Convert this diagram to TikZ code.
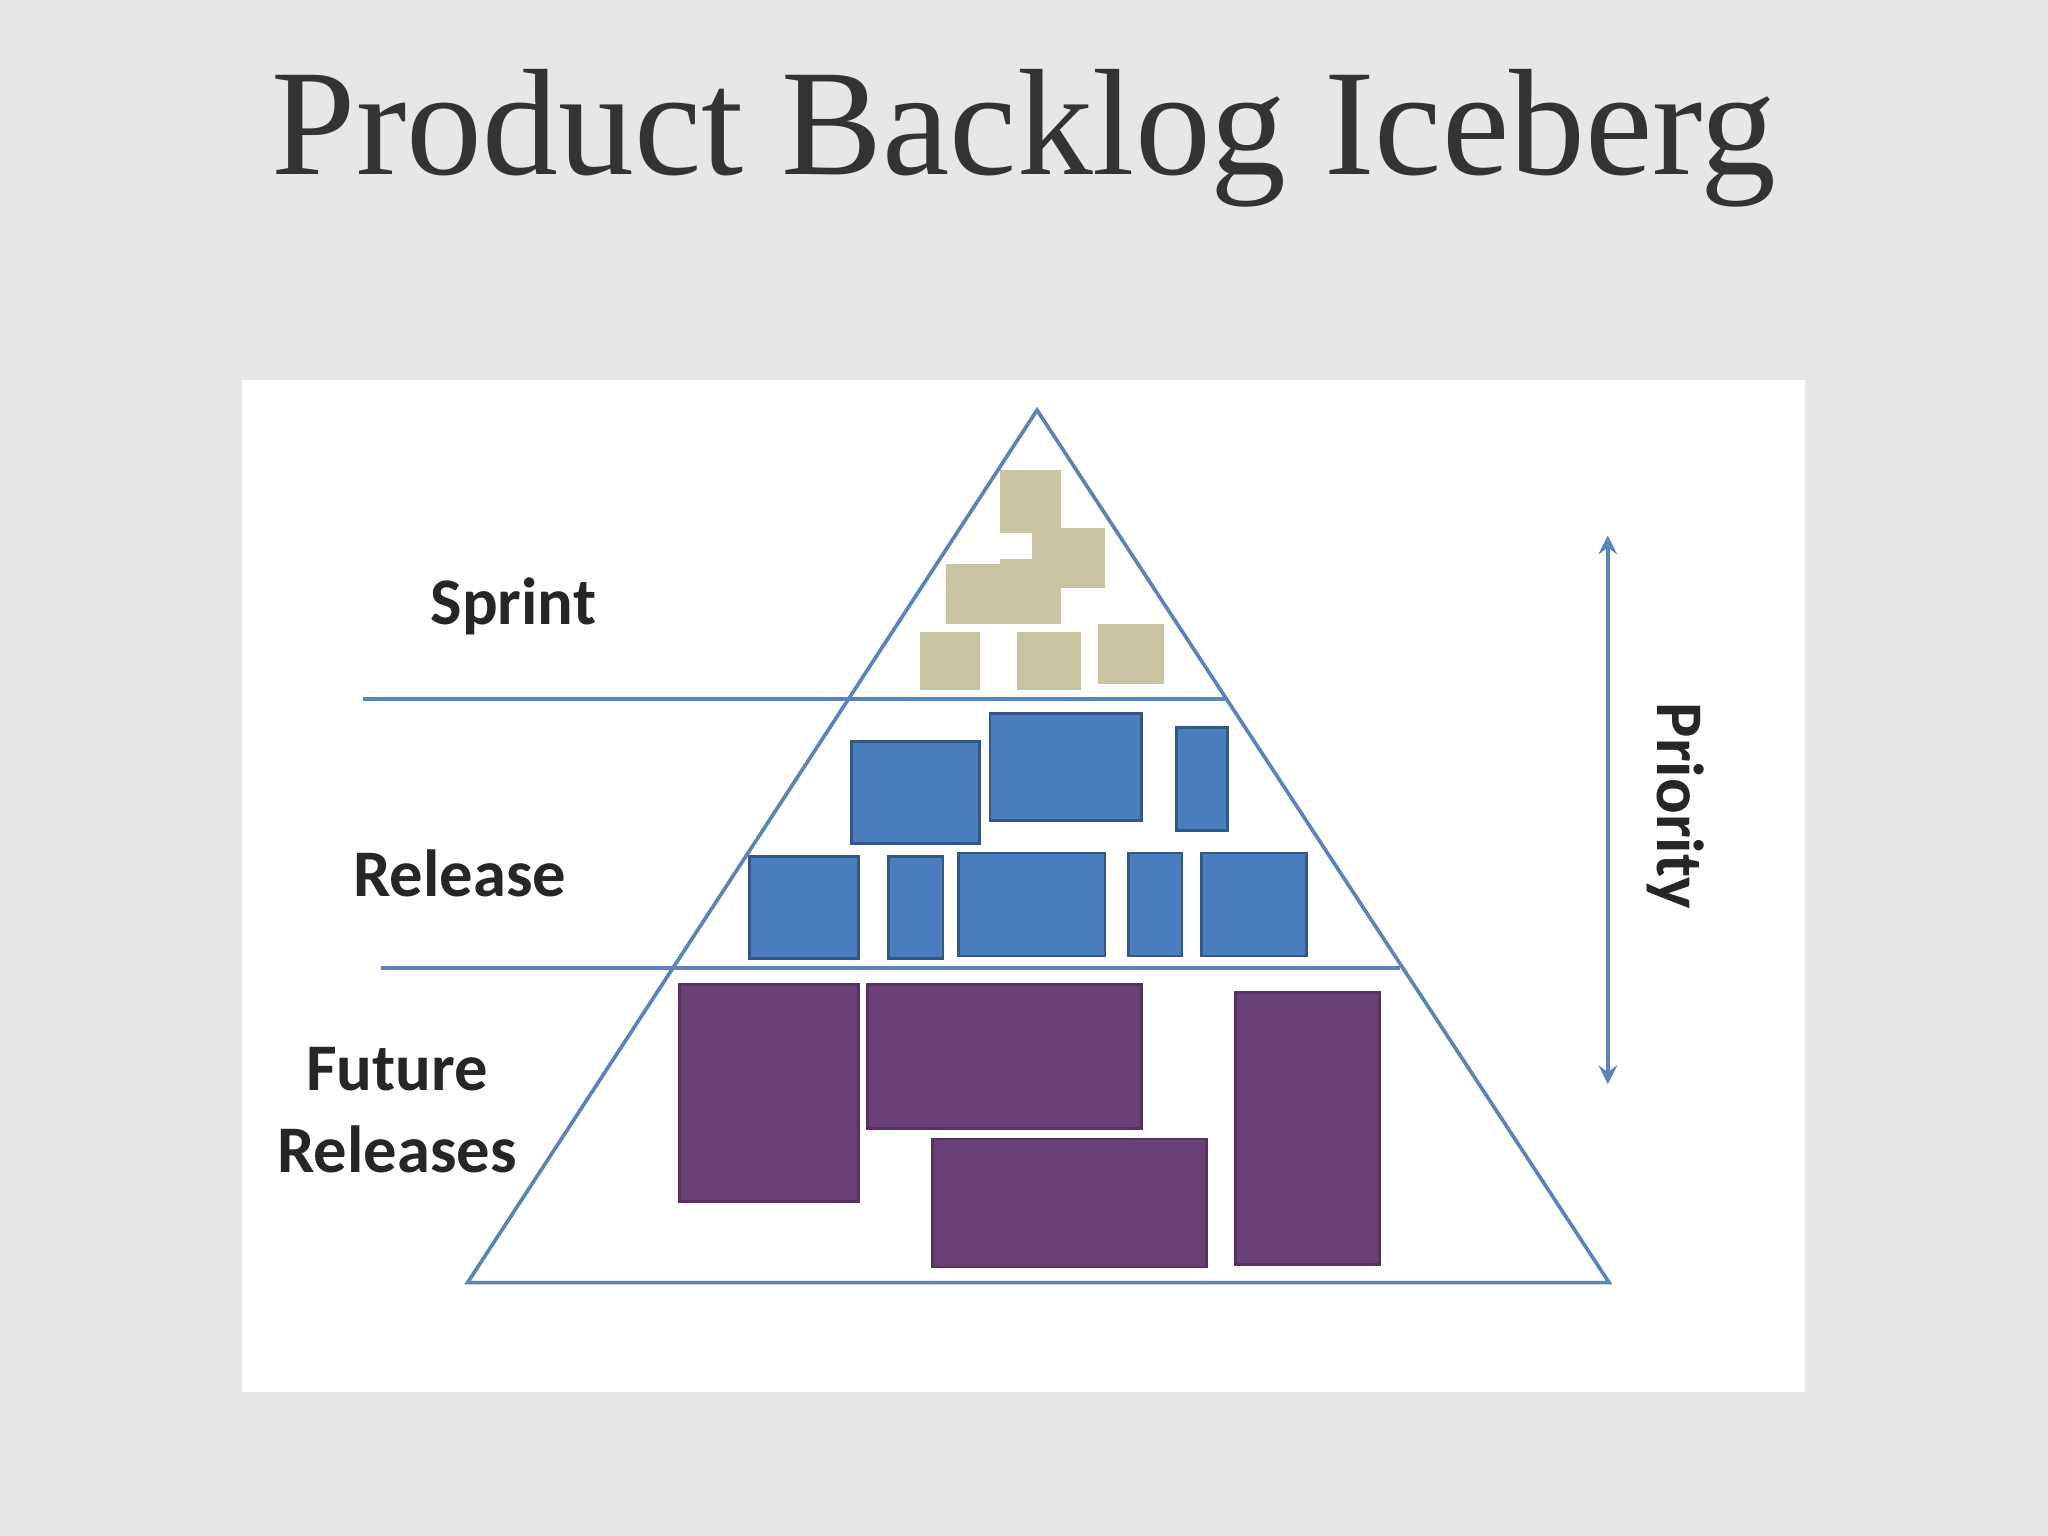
\documentclass[tikz,border=0pt]{standalone}
\usepackage{fontspec}
\setmainfont{Liberation Serif}
\newfontfamily\lab{Carlito}
\definecolor{bg}{HTML}{E9E7E4}
\definecolor{ln}{HTML}{5B84B8}
\definecolor{tan}{HTML}{C8C3A0}
\definecolor{blu}{HTML}{4A7EBF}
\definecolor{pur}{HTML}{6A4079}
\tikzset{
 tanbox/.style={fill=tan,draw=none},
 blubox/.style={fill=blu,draw=blu!70!black,line width=0.6pt},
 purbox/.style={fill=pur,draw=pur!80!black,line width=0.6pt},
 lbl/.style={font=\lab\bfseries\fontsize{14.5}{18}\selectfont,text=black!85},
 sep/.style={draw=ln,line width=0.8pt}
}
\begin{document}
\begin{tikzpicture}[x=0.01cm,y=-0.01cm]
\fill[bg] (0,0) rectangle (1568,1176);
\fill[white] (185,291) rectangle (1382,1066);
\node[font=\fontsize{33}{40}\selectfont,text=black!80] (title) at (784,106) {Product Backlog Iceberg};
% boxes
\draw[tanbox] (766,360) rectangle (812,408);
\draw[tanbox] (790,404) rectangle (846,450);
\draw[tanbox] (724,432) rectangle (812,478);
\draw[tanbox] (766,428) rectangle (812,470);
\draw[tanbox] (704,484) rectangle (750,528);
\draw[tanbox] (779,484) rectangle (828,528);
\draw[tanbox] (841,478) rectangle (891,524);
\draw[blubox] (652,568) rectangle (750,646);
\draw[blubox] (758,546) rectangle (874,628);
\draw[blubox] (901,557) rectangle (940,636);
\draw[blubox] (574,656) rectangle (657,734);
\draw[blubox] (680,656) rectangle (722,734);
\draw[blubox] (734,653) rectangle (846,732);
\draw[blubox] (864,653) rectangle (905,732);
\draw[blubox] (920,653) rectangle (1000,732);
\draw[purbox] (520,754) rectangle (657,920);
\draw[purbox] (664,754) rectangle (874,864);
\draw[purbox] (714,872) rectangle (924,970);
\draw[purbox] (946,760) rectangle (1056,968);
% triangle and lines
\coordinate (apex) at (794,314);
\coordinate (bl) at (358,982);
\coordinate (br) at (1232,982);
\draw[sep] (apex) -- (bl) -- (br) -- cycle;
\coordinate (s1) at (278,535); \coordinate (s2) at (940,535);
\coordinate (r1) at (292,741); \coordinate (r2) at (1072,741);
\draw[sep] (s1) -- (s2);
\draw[sep] (r1) -- (r2);
% arrow
\coordinate (pa) at (1231,410); \coordinate (pb) at (1231,830);
\draw[ln,line width=0.8pt,<->,>=stealth] (pa) -- (pb);
\node[lbl,rotate=-90] (prio) at (1283,617) {Priority};
\node[lbl] (sprint) at (393,464) {Sprint};
\node[lbl] (release) at (352,669) {Release};
\node[lbl,align=center] (future) at (304,850) {Future\\[0pt]Releases};
\end{tikzpicture}
\end{document}
